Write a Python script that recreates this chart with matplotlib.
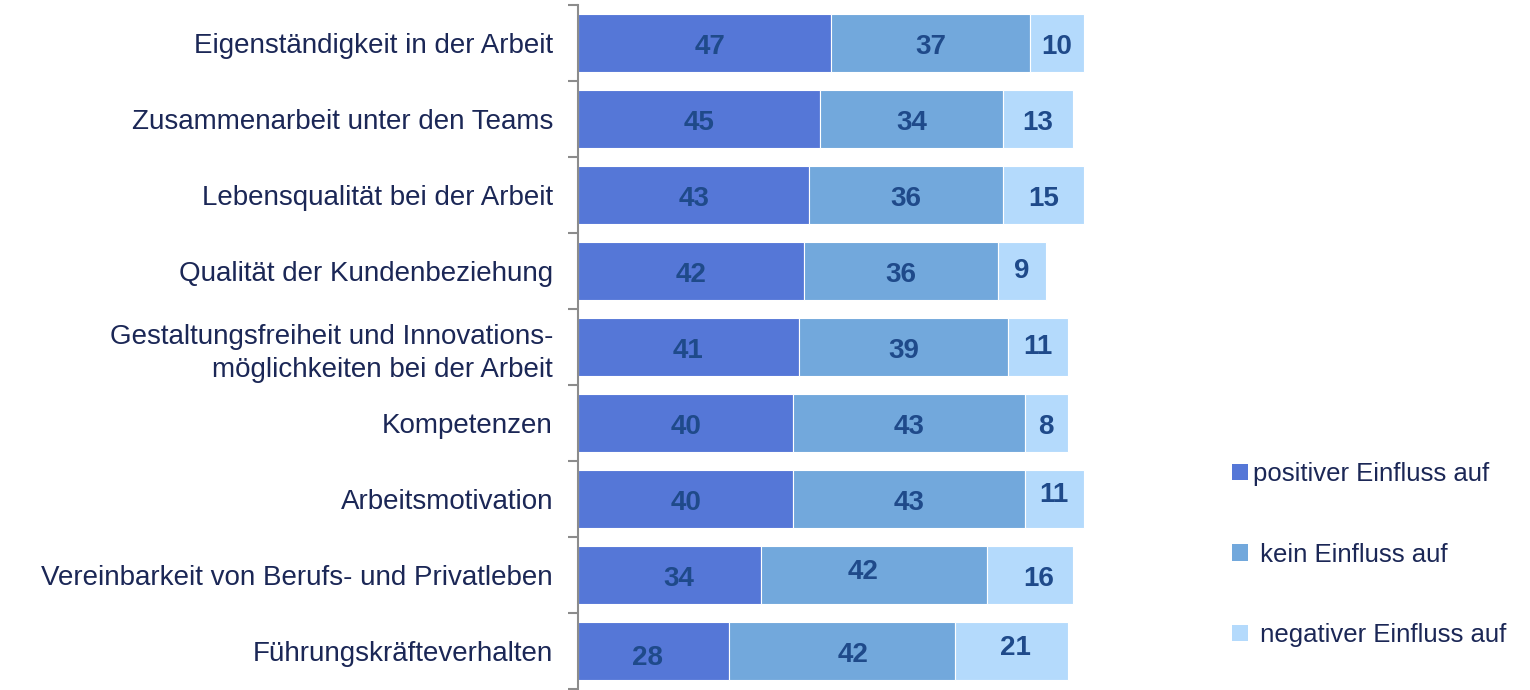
import matplotlib
matplotlib.use("Agg")
import matplotlib.pyplot as plt
from matplotlib.patches import Patch
import numpy as np

plt.rcParams['font.family'] = ['Liberation Sans', 'DejaVu Sans']

categories = [
    "Eigenständigkeit in der Arbeit",
    "Zusammenarbeit unter den Teams",
    "Lebensqualität bei der Arbeit",
    "Qualität der Kundenbeziehung",
    "Gestaltungsfreiheit und Innovations-\nmöglichkeiten bei der Arbeit",
    "Kompetenzen",
    "Arbeitsmotivation",
    "Vereinbarkeit von Berufs- und Privatleben",
    "Führungskräfteverhalten",
]
positiv = [47, 45, 43, 42, 41, 40, 40, 34, 28]
kein = [37, 34, 36, 36, 39, 43, 43, 42, 42]
negativ = [10, 13, 15, 9, 11, 8, 11, 16, 21]
series_names = ["positiver Einfluss auf", " kein Einfluss auf", " negativer Einfluss auf"]

colors = ["#5577D7", "#72A8DC", "#B4DAFC"]
label_color = "#1F4A8A"
text_color = "#1B2756"

# small label offsets (points) to mimic the original label placement
offsets = {
    (7, 0): (7, 0), (7, 1): (-8, 5), (7, 2): (6, 0),
    (8, 0): (-4, -2), (8, 1): (8, 0), (8, 2): (3, 5),
    (6, 2): (0, 6), (3, 2): (0, 3), (4, 2): (0, 3),
    (0, 0): (4, 0),
}

fig = plt.figure(figsize=(15.3, 6.9), dpi=100)
ax = fig.add_axes([578/1530, 1 - 689/690, 538/1530, 684/690])

n = len(categories)
y = np.arange(n)
data = [positiv, kein, negativ]
left = np.zeros(n)
for s, vals in enumerate(data):
    vals = np.array(vals, dtype=float)
    ax.barh(y, vals, left=left, height=0.76, color=colors[s], edgecolor='white', linewidth=0.8)
    for i in range(n):
        dx, dy = offsets.get((i, s), (0, 0))
        ax.annotate(str(int(vals[i])), (left[i] + vals[i] / 2, y[i]),
                    xytext=(dx, dy - 1), textcoords='offset points',
                    ha='center', va='center_baseline', fontsize=20, fontweight='bold',
                    color=label_color)
    left += vals

ax.set_xlim(0, 100)
ax.set_ylim(n - 0.5, -0.5)
ax.set_yticks(y)
ax.set_yticklabels(categories, fontsize=20, color=text_color)
ax.tick_params(axis='y', which='major', length=0, pad=18)
ax.set_yticks(np.arange(-0.5, n, 1.0), minor=True)
ax.tick_params(axis='y', which='minor', length=7, width=1.5, color='#8C8C8C', direction='out')
ax.set_xticks([])
for sp in ['top', 'right', 'bottom']:
    ax.spines[sp].set_visible(False)
ax.spines['left'].set_color('#8C8C8C')
ax.spines['left'].set_linewidth(1.5)
for lbl in ax.get_yticklabels():
    lbl.set_linespacing(1.35)

handles = [Patch(facecolor=c, edgecolor='none') for c in colors]
leg = fig.legend(handles, series_names, loc='upper left',
                 bbox_to_anchor=(1232/1530, 1 - 462/690), frameon=False,
                 fontsize=18.5, handlelength=0.62, handleheight=0.62,
                 handletextpad=0.2, labelspacing=2.2, borderpad=0, borderaxespad=0)
for t in leg.get_texts():
    t.set_color(text_color)

fig.savefig("out.png", dpi=100)
